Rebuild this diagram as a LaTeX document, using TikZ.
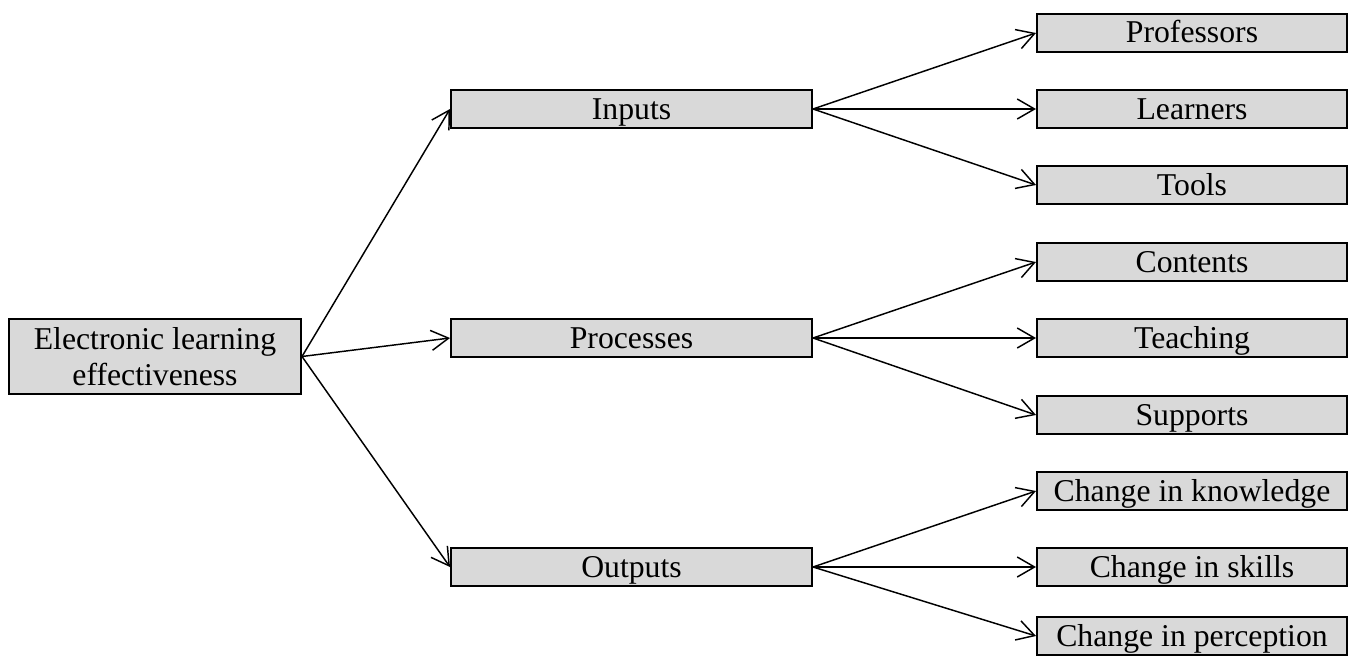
\documentclass[tikz,border=0pt]{standalone}
\usepackage{fontspec}
\setmainfont{Liberation Serif}
\usetikzlibrary{arrows.meta}
\definecolor{boxgray}{HTML}{D9D9D9}
\tikzset{
  box/.style={draw=black, line width=1.5pt, fill=boxgray, rectangle, inner sep=0pt,
    font=\fontsize{23.8}{27.5}\selectfont},
  rootbox/.style={box, minimum width=219pt, minimum height=56.25pt, align=center},
  onebox/.style={box, minimum height=28.5pt, text height=19pt, text depth=4pt},
  midbox/.style={onebox, minimum width=270.75pt},
  leafbox/.style={onebox, minimum width=232.5pt},
  conn/.style={line width=1.1pt, -{Straight Barb[length=13pt,width=15pt,line width=1.1pt]}}
}
\begin{document}
\begin{tikzpicture}[x=0.75pt,y=-0.75pt]
\path[use as bounding box] (0,0) rectangle (1352,660);
\node[rootbox] (root) at (155,356.5) {Electronic learning\\effectiveness};
\node[midbox] (in) at (631.5,109) {Inputs};
\node[midbox] (pr) at (631.5,338) {Processes};
\node[midbox] (out) at (631.5,567) {Outputs};
\node[leafbox] (prof) at (1192,33) {Professors};
\node[leafbox] (lear) at (1192,109) {Learners};
\node[leafbox] (tool) at (1192,185) {Tools};
\node[leafbox] (cont) at (1192,262) {Contents};
\node[leafbox] (teach) at (1192,338) {Teaching};
\node[leafbox] (supp) at (1192,415) {Supports};
\node[leafbox] (know) at (1192,491) {Change in knowledge};
\node[leafbox] (skill) at (1192,567) {Change in skills};
\node[leafbox] (perc) at (1192,636) {Change in perception};
\draw[conn] (root.east) -- (in.west);
\draw[conn] (root.east) -- (pr.west);
\draw[conn] (root.east) -- (out.west);
\draw[conn] (in.east) -- (prof.west);
\draw[conn] (in.east) -- (lear.west);
\draw[conn] (in.east) -- (tool.west);
\draw[conn] (pr.east) -- (cont.west);
\draw[conn] (pr.east) -- (teach.west);
\draw[conn] (pr.east) -- (supp.west);
\draw[conn] (out.east) -- (know.west);
\draw[conn] (out.east) -- (skill.west);
\draw[conn] (out.east) -- (perc.west);
\end{tikzpicture}
\end{document}
